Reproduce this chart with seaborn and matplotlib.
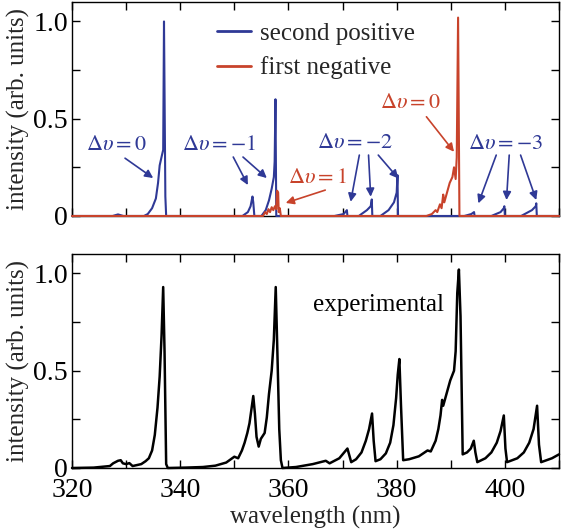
import matplotlib
matplotlib.use("Agg")
import matplotlib.pyplot as plt
import seaborn as sns
from matplotlib.ticker import MultipleLocator, FixedLocator, FixedFormatter

sns.set_theme(style="ticks")
plt.rcParams["font.family"] = ["Liberation Serif", "DejaVu Serif"]
plt.rcParams["mathtext.fontset"] = "stix"

BLUE = "#2f3996"
RED = "#c8432b"

# second positive (simulated)
sp_wl = [320, 327.5, 328.5, 329.5, 333.3, 334.0, 334.8, 335.5, 335.9, 336.2, 336.6, 336.85,
         337.0, 337.25, 337.4, 351.5, 352.5, 353.0, 353.35, 353.5, 353.7, 355.0, 355.8,
         356.4, 356.9, 357.3, 357.45, 357.6, 357.75, 368.5, 370.2, 370.8, 370.9, 373.0,
         374.5, 375.2, 375.4, 375.5, 377.0, 378.5, 379.5, 380.0, 380.15, 380.25, 392.5,
         393.8, 394.3, 394.4, 397.5, 399.2, 399.8, 399.9, 400.0, 403.0, 405.0, 405.7,
         405.8, 405.9, 410]
sp_int = [0, 0, 0.008, 0, 0, 0.01, 0.04, 0.09, 0.17, 0.26, 0.31, 0.34,
          1.0, 0.1, 0.0, 0.0, 0.02, 0.05, 0.1, 0.07, 0.0, 0.0, 0.03,
          0.08, 0.14, 0.2, 0.28, 0.6, 0.0, 0.0, 0.01, 0.03, 0.0, 0.0,
          0.03, 0.05, 0.085, 0.0, 0.0, 0.03, 0.07, 0.12, 0.21, 0.0, 0.0,
          0.01, 0.02, 0.0, 0.0, 0.02, 0.04, 0.05, 0.0, 0.0, 0.03, 0.05,
          0.065, 0.0, 0]

# first negative (simulated)
fn_wl = [320, 355.3, 355.7, 356.0, 356.3, 356.6, 356.9, 357.2, 357.5, 357.75, 357.9, 358.1,
         358.2, 358.4, 358.6, 385.5, 386.5, 387.2, 387.5, 388.0, 388.3, 388.6, 388.8,
         389.3, 389.8, 390.3, 390.6, 390.9, 391.1, 391.35, 391.6, 410]
fn_int = [0, 0, 0.02, 0.01, 0.035, 0.02, 0.045, 0.03, 0.05, 0.035, 0.13, 0.12,
          0.02, 0.04, 0.0, 0.0, 0.01, 0.03, 0.02, 0.06, 0.04, 0.11, 0.07,
          0.12, 0.17, 0.2, 0.25, 0.19, 0.3, 1.02, 0.0, 0]

# experimental
exp_wl = [320, 324, 327.0, 327.6, 328.5, 329.0, 329.4, 330.0, 330.6, 331.2, 332.8, 333.6,
          334.2, 334.8, 335.3, 335.8, 336.2, 336.55, 336.85, 337.1, 337.4, 337.7, 341.0,
          344.2, 346.5, 348.5, 350.0, 350.7, 351.4, 351.9, 352.4, 352.8, 353.2, 353.5,
          353.8, 354.1, 354.5, 354.9, 355.6, 356.0, 356.4, 356.9, 357.3, 357.65, 357.95,
          358.3, 358.6, 358.9, 361.4, 364.5, 366.9, 367.6, 369.4, 370.9, 371.6, 372.5,
          373.5, 374.3, 374.9, 375.45, 375.75, 376.1, 377.0, 378.0, 378.8, 379.4, 379.9,
          380.2, 380.5, 380.8, 381.2, 382.3, 384.1, 385.7, 386.3, 387.2, 387.7, 388.1,
          388.4, 388.6, 389.1, 389.5, 389.9, 390.6, 390.9, 391.2, 391.5, 391.8, 392.2,
          393.0, 393.7, 394.25, 394.55, 394.9, 396.4, 397.5, 398.5, 399.2, 399.8, 400.1,
          400.4, 402.3, 403.5, 404.5, 405.3, 405.95, 406.3, 406.7, 408.7, 410]
exp_int = [0.0, 0.002, 0.01, 0.024, 0.037, 0.04, 0.024, 0.02, 0.025, 0.01, 0.02, 0.035,
           0.05, 0.09, 0.17, 0.31, 0.47, 0.68, 0.93, 0.6, 0.02, 0.0, 0.002,
           0.005, 0.012, 0.028, 0.058, 0.05, 0.09, 0.13, 0.18, 0.23, 0.31, 0.37,
           0.28, 0.16, 0.11, 0.15, 0.18, 0.26, 0.38, 0.5, 0.66, 0.93, 0.6,
           0.2, 0.04, 0.0, 0.005, 0.02, 0.037, 0.024, 0.05, 0.1, 0.03, 0.045,
           0.08, 0.14, 0.2, 0.28, 0.14, 0.035, 0.045, 0.075, 0.13, 0.22, 0.36,
           0.48, 0.56, 0.32, 0.04, 0.045, 0.06, 0.09, 0.085, 0.14, 0.2, 0.27,
           0.35, 0.32, 0.37, 0.41, 0.45, 0.5, 0.6, 0.9, 1.02, 0.78, 0.07,
           0.08, 0.1, 0.14, 0.08, 0.03, 0.05, 0.08, 0.13, 0.19, 0.27, 0.1,
           0.03, 0.05, 0.08, 0.13, 0.2, 0.32, 0.12, 0.03, 0.05, 0.07]

FS = 18
TFS = 20
fig = plt.figure(figsize=(5.63, 5.30), dpi=100)
ax1 = fig.add_axes([0.1279, 0.5925, 0.8650, 0.4037])
ax2 = fig.add_axes([0.1279, 0.1170, 0.8650, 0.4038])

sns.lineplot(x=sp_wl, y=sp_int, ax=ax1, color=BLUE, lw=1.5, label="second positive",
             estimator=None, sort=False, zorder=3)
sns.lineplot(x=fn_wl, y=fn_int, ax=ax1, color=RED, lw=1.5, label="first negative",
             estimator=None, sort=False, zorder=4)
sns.lineplot(x=exp_wl, y=exp_int, ax=ax2, color="black", lw=1.8,
             estimator=None, sort=False, zorder=3)
for ax in (ax1, ax2):
    for ln in ax.get_lines():
        ln.set_clip_on(False)

for ax in (ax1, ax2):
    ax.set_xlim(320, 410)
    ax.set_ylim(0, 1.1)
    ax.xaxis.set_major_locator(MultipleLocator(20))
    ax.xaxis.set_minor_locator(MultipleLocator(10))
    ax.yaxis.set_major_locator(FixedLocator([0, 0.5, 1.0]))
    ax.yaxis.set_major_formatter(FixedFormatter(["0", "0.5", "1.0"]))
    ax.yaxis.set_minor_locator(FixedLocator([0.25, 0.75]))
    ax.tick_params(which="both", direction="in", top=True, right=True, length=6,
                   width=1, labelsize=TFS, color="black", labelcolor="black")
    ax.tick_params(axis="y", pad=3)
    ax.tick_params(axis="x", pad=7)
    for s in ax.spines.values():
        s.set_linewidth(1)
        s.set_color("black")
    ax.set_ylabel("intensity (arb. units)", fontsize=FS, labelpad=2)
    ax.set_xlabel("")

ax1.tick_params(axis="x", labelbottom=False)
ax2.set_xlabel("wavelength (nm)", fontsize=FS, labelpad=2)

leg = ax1.legend(loc="upper left", bbox_to_anchor=(0.298, 0.905), frameon=False,
                 fontsize=FS, handlelength=1.35, handletextpad=0.35, borderpad=0,
                 borderaxespad=0, labelspacing=0.46)
for line in leg.get_lines():
    line.set_linewidth(2)

AFS = 16
def label(ax, x, y, txt, color):
    ax.text(x, y, txt, color=color, fontsize=AFS, ha="center", va="center")

def arrow(ax, tail, tip, color):
    ax.annotate("", xy=tip, xytext=tail,
                arrowprops=dict(arrowstyle="-|>", color=color, lw=1.2,
                                mutation_scale=12, shrinkA=0, shrinkB=0))

label(ax1, 328.3, 0.364, r"$\Delta\upsilon = 0$", BLUE)
arrow(ax1, (329.8, 0.297), (335.0, 0.195), BLUE)

label(ax1, 347.2, 0.364, r"$\Delta\upsilon = -1$", BLUE)
arrow(ax1, (349.8, 0.303), (352.5, 0.159), BLUE)
arrow(ax1, (351.6, 0.303), (356.0, 0.195), BLUE)

label(ax1, 365.3, 0.195, r"$\Delta\upsilon = 1$", RED)
arrow(ax1, (366.8, 0.133), (359.5, 0.067), RED)

label(ax1, 382.6, 0.58, r"$\Delta\upsilon = 0$", RED)
arrow(ax1, (385.5, 0.51), (390.6, 0.33), RED)

label(ax1, 372.3, 0.372, r"$\Delta\upsilon = -2$", BLUE)
arrow(ax1, (373.1, 0.313), (371.5, 0.073), BLUE)
arrow(ax1, (374.8, 0.313), (375.2, 0.099), BLUE)
arrow(ax1, (376.6, 0.313), (380.3, 0.193), BLUE)

label(ax1, 400.2, 0.369, r"$\Delta\upsilon = -3$", BLUE)
arrow(ax1, (398.4, 0.313), (395.1, 0.065), BLUE)
arrow(ax1, (400.8, 0.313), (400.3, 0.082), BLUE)
arrow(ax1, (402.9, 0.313), (405.8, 0.082), BLUE)

ax2.text(364.5, 0.836, "experimental", fontsize=FS, ha="left", va="center", color="black")

fig.savefig("out.png", dpi=100)
